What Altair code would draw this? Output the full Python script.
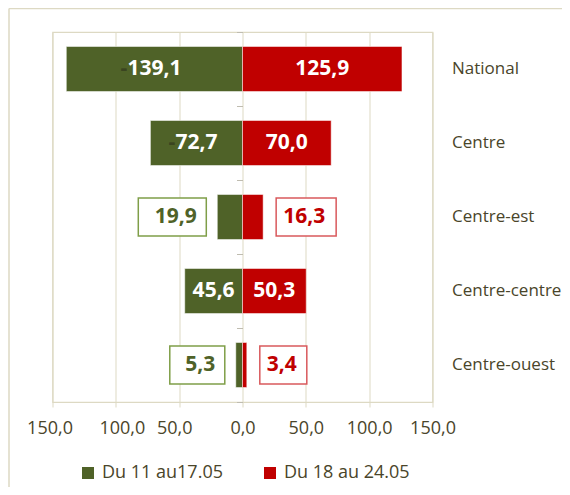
import altair as alt
import pandas as pd

# ---- data ----
categories = ["National", "Centre", "Centre-est", "Centre-centre", "Centre-ouest"]
series_names = ["Du 11 au17.05", "Du 18 au 24.05"]
week1 = [139.1, 72.7, 19.9, 45.6, 5.3]      # drawn to the left
week2 = [125.9, 70.0, 16.3, 50.3, 3.4]      # drawn to the right
week1_minus = [True, True, False, False, False]  # faint "-" shown before the label
x_ticks = [-150, -100, -50, 0, 50, 100, 150]

GREEN = "#4F6228"
RED = "#C00000"
GREEN_BOX = "#7F9E48"
RED_BOX = "#D9595C"
TEXT = "#4A452A"
BEIGE = "#DDD9C3"
FONT = "Open Sans"

rows = []
for c, v1, v2, m in zip(categories, week1, week2, week1_minus):
    rows.append(dict(cat=c, series=series_names[0], value=v1, signed=-v1, minus=m, side="L"))
    rows.append(dict(cat=c, series=series_names[1], value=v2, signed=v2, minus=False, side="R"))
df = pd.DataFrame(rows)

PLOT_W, PLOT_H = 380, 370
K = 300 / PLOT_W  # data units per pixel

xscale = alt.Scale(domain=[-150, 150], nice=False, zero=False)
xaxis = alt.Axis(
    values=x_ticks,
    labelExpr="replace(format(abs(datum.value), '.1f'), '.', ',')",
    title=None,
    grid=True,
    labelFlush=False,
    labelOverlap=False,
    labelOffset={"condition": [
        {"test": "datum.value == -150", "value": -3},
        {"test": "datum.value == -100", "value": 6},
        {"test": "datum.value == -50", "value": -5},
    ], "value": 0},
)
yscale = alt.Scale(domain=categories, paddingInner=0, paddingOuter=0)


def X(field):
    return alt.X(field, type="quantitative", scale=xscale, axis=xaxis, title=None)


def X2(field):
    return alt.X2(field)


def Y(axis):
    return alt.Y("cat:N", sort=categories, scale=yscale, axis=axis, title=None)


cat_axis = alt.Axis(orient="right", labelPadding=19, ticks=False, domain=False,
                    labelFont=FONT, labelFontSize=17, labelColor=TEXT,
                    labelAlign="left", labelBaseline="middle", labelLimit=0,
                    grid=False, title=None)
tick_axis = alt.Axis(orient="left", offset=-PLOT_W / 2, labels=False, domain=False,
                     ticks=True, tickBand="extent", tickSize=6, tickColor="#BFBCB0",
                     grid=False, title=None)

base = alt.Chart(df)

lab_expr = "replace(format(datum.value, '.1f'), '.', ',')"

bars = base.mark_bar(size=45, stroke="white", strokeWidth=0.5).encode(
    x=X("signed"),
    y=Y(cat_axis),
    color=alt.Color("series:N", scale=alt.Scale(domain=series_names, range=[GREEN, RED]),
                    legend=alt.Legend(title=None, orient="none", legendX=26.5, legendY=432,
                                      direction="horizontal", symbolType="square",
                                      symbolSize=144, symbolStrokeWidth=0,
                                      labelFont=FONT, labelFontSize=18, labelColor=TEXT,
                                      columnPadding=38, labelOffset=5, padding=0)),
)

inner = base.transform_filter("datum.value >= 30").transform_calculate(
    mid="datum.signed / 2", lab=lab_expr
).mark_text(font=FONT, fontSize=21, fontWeight="bold", color="white",
            align="center", baseline="middle").encode(
    x=X("mid"), y=Y(tick_axis), text="lab:N")

minus = base.transform_filter("datum.value >= 30 && datum.minus").transform_calculate(
    lab=lab_expr
).transform_calculate(
    mx="datum.signed / 2 - ((length(datum.lab) - 1) * 12.0 + 6.2) / 2 * %f" % K
).mark_text(font=FONT, fontSize=21, fontWeight="bold", color="#3A4420",
            align="right", baseline="middle").encode(
    x=X("mx"), y=Y(None), text=alt.value("-"))

left_small = base.transform_filter("datum.value < 30 && datum.side == 'L'").transform_calculate(
    lab=lab_expr
).transform_calculate(
    bx2="datum.signed - 11 * %f" % K
).transform_calculate(
    bx="datum.bx2 - (29 + 13 * (length(datum.lab) - 1)) * %f" % K
)
left_box = left_small.mark_bar(size=38, fill="white", stroke=GREEN_BOX, strokeWidth=1.5).encode(
    x=X("bx"), x2=X2("bx2"), y=Y(None))
left_txt = left_small.mark_text(font=FONT, fontSize=21, fontWeight="bold", color=GREEN,
                                align="right", baseline="middle", dx=-9.5).encode(
    x=X("bx2"), y=Y(None), text="lab:N")

right_small = base.transform_filter("datum.value < 30 && datum.side == 'R'").transform_calculate(
    lab=lab_expr
).transform_calculate(
    bx="datum.signed + 13 * %f" % K
).transform_calculate(
    bx2="datum.bx + (21 + 13 * (length(datum.lab) - 1)) * %f" % K
)
right_box = right_small.mark_bar(size=38, fill="white", stroke=RED_BOX, strokeWidth=1.5).encode(
    x=X("bx"), x2=X2("bx2"), y=Y(None))
right_txt = right_small.mark_text(font=FONT, fontSize=21, fontWeight="bold", color=RED,
                                  align="left", baseline="middle", dx=7).encode(
    x=X("bx"), y=Y(None), text="lab:N")

frame_df = pd.DataFrame({"k": [0]})
frame_left = alt.Chart(frame_df).mark_rule(color=BEIGE, strokeWidth=1.5).encode(
    x=alt.value(-43.5), y=alt.value(-23.5), y2=alt.value(470))
frame_top = alt.Chart(frame_df).mark_rule(color=BEIGE, strokeWidth=1.5).encode(
    x=alt.value(-43.5), x2=alt.value(520), y=alt.value(-23.5))

chart = alt.layer(
    frame_left, frame_top, bars, inner, minus, left_box, left_txt, right_box, right_txt
).resolve_axis(y="independent").properties(
    width=PLOT_W, height=PLOT_H,
    padding={"left": 44.5, "top": 24, "right": 129.5, "bottom": 85},
    autosize=alt.AutoSizeParams(type="none"),
).configure_view(stroke=BEIGE, strokeWidth=1.2).configure_axisX(
    domain=False, gridColor=BEIGE, gridWidth=1, tickColor=BEIGE, tickSize=5,
    labelFont=FONT, labelFontSize=18, labelColor=TEXT, labelPadding=12,
)

chart.save("out.html", embed_options={"renderer": "svg", "actions": False})
